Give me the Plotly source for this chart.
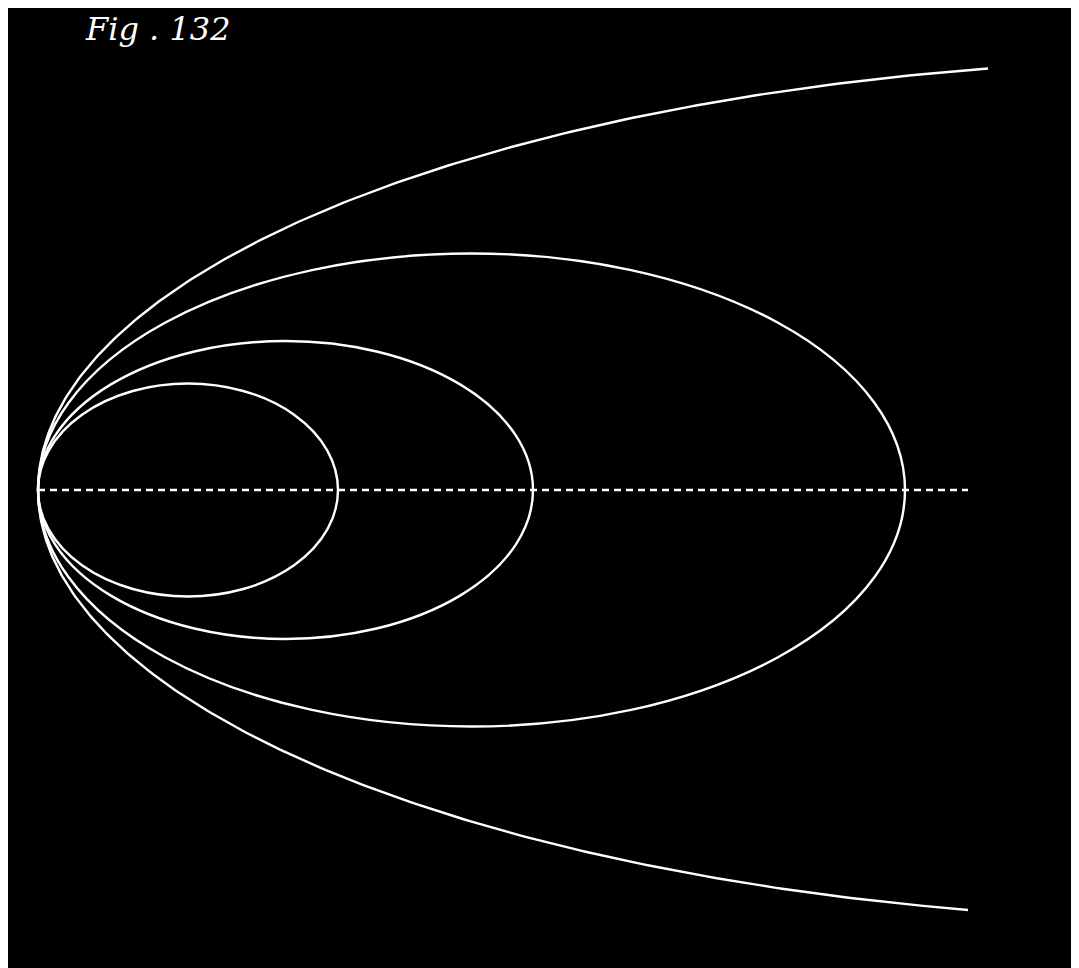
import numpy as np
import plotly.graph_objects as go

# common vertex on the axis (image units)
vertex_x = 38
axis_y = 490
axis_end_x = 968

# closed ellipses: semi-major and semi-minor axes
ell_a = [150, 247.5, 433.5]
ell_b = [106.5, 149, 236.5]

# outer open curve (very long ellipse, only its left part is drawn)
outer_a = 1200
outer_b = 431
outer_end_x = [988, 968]   # upper branch end, lower branch end

fig = go.Figure()

# axis, dashed
fig.add_scatter(x=[vertex_x, axis_end_x], y=[axis_y, axis_y], mode='lines',
                line={'color': 'white', 'width': 2.5, 'dash': '7px,5px'},
                hoverinfo='skip')

# the three closed ellipses
for a, b in zip(ell_a, ell_b):
    fig.add_shape(type='circle', xref='x', yref='y',
                  x0=vertex_x, x1=vertex_x + 2 * a,
                  y0=axis_y - b, y1=axis_y + b,
                  line={'color': 'white', 'width': 2.4})

# the open outer curve, upper end to lower end through the vertex
t_top = np.arccos(1 - (outer_end_x[0] - vertex_x) / outer_a)
t_bot = np.arccos(1 - (outer_end_x[1] - vertex_x) / outer_a)
t = np.linspace(-t_top, t_bot, 400)
fig.add_scatter(x=vertex_x + outer_a * (1 - np.cos(t)),
                y=axis_y + outer_b * np.sin(t),
                mode='lines', line={'color': 'white', 'width': 2.4},
                hoverinfo='skip')

fig.add_annotation(text='Fig . 132', x=83, y=29, xref='x', yref='y',
                   xanchor='left', yanchor='middle', showarrow=False,
                   font={'family': 'DejaVu Serif', 'size': 32,
                         'color': 'white', 'style': 'italic'})

# page has an 8px body margin, so the figure sits at (8, 8)
fig.update_xaxes(range=[8, 1087], visible=False, fixedrange=True)
fig.update_yaxes(range=[976, 8], visible=False, fixedrange=True)
fig.update_layout(width=1079, height=968,
                  margin={'l': 0, 'r': 0, 't': 0, 'b': 0},
                  paper_bgcolor='black', plot_bgcolor='black',
                  showlegend=False)

fig.write_html('out.html')
